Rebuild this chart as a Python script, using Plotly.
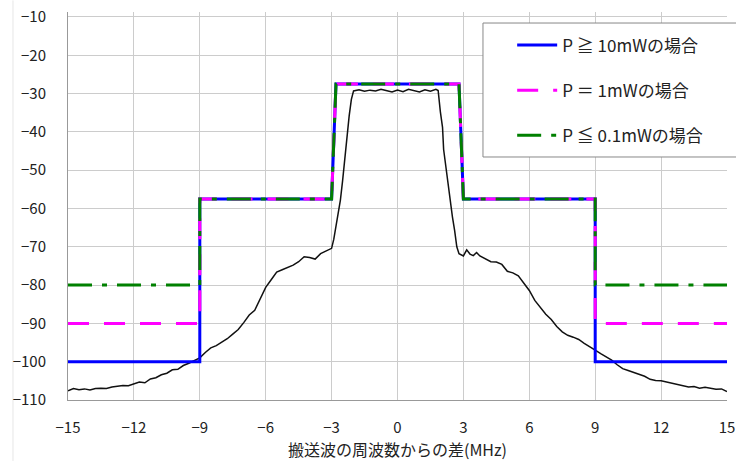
import plotly.graph_objects as go

# ---- data ----
mask_x = [-15, -9, -9, -3.0, -2.8, 2.8, 3.0, 9, 9, 15]
mask_10mw = [-100, -100, -57.5, -57.5, -27.5, -27.5, -57.5, -57.5, -100, -100]
mask_1mw = [-90, -90, -57.5, -57.5, -27.5, -27.5, -57.5, -57.5, -90, -90]
mask_01mw = [-80, -80, -57.5, -57.5, -27.5, -27.5, -57.5, -57.5, -80, -80]

spec_x = [
    -15, -14.75, -14.5, -14.25, -14.0, -13.75, -13.5, -13.25, -13.0, -12.75,
    -12.5, -12.25, -12.0, -11.75, -11.5, -11.25, -11.0, -10.75, -10.5, -10.25,
    -10.0, -9.75, -9.5, -9.25, -9.0, -8.75, -8.5, -8.25, -8.0, -7.75,
    -7.5, -7.25, -7.0, -6.75, -6.5, -6.25, -6.0, -5.75, -5.5, -5.25,
    -5.0, -4.75, -4.5, -4.25, -4.0, -3.75, -3.5, -3.25, -3.0,
    -2.9, -2.8, -2.7, -2.6, -2.5, -2.4, -2.3, -2.2, -2.1, -2.0,
    -1.75, -1.5, -1.25, -1.0, -0.75, -0.5, -0.25, 0.0, 0.25, 0.5,
    0.75, 1.0, 1.25, 1.5, 1.75, 1.85,
    1.95, 2.05, 2.1, 2.2, 2.3, 2.4, 2.5, 2.6, 2.7, 2.8,
    3.0, 3.15, 3.3, 3.45, 3.6, 3.75, 4.0, 4.25, 4.5, 4.75,
    5.0, 5.25, 5.5, 5.75, 6.0, 6.25, 6.5, 6.75, 7.0, 7.25,
    7.5, 7.75, 8.0, 8.25, 8.5, 8.75, 9.0, 9.25, 9.5, 9.75,
    10.0, 10.25, 10.5, 10.75, 11.0, 11.25, 11.5, 11.75, 12.0, 12.25,
    12.5, 12.75, 13.0, 13.25, 13.5, 13.75, 14.0, 14.25, 14.5, 14.75, 15.0,
]
spec_y = [
    -107.6, -107.0, -107.3, -107.1, -107.4, -107.0, -106.9, -107.0, -106.6, -106.5,
    -106.2, -106.3, -105.8, -105.3, -105.5, -104.5, -104.2, -103.4, -103.0, -102.1,
    -102.0, -101.0, -100.4, -99.6, -99.0, -97.6, -96.4, -95.8, -94.9, -94.0,
    -92.8, -91.6, -89.8, -87.8, -86.6, -83.8, -80.6, -78.6, -76.6, -76.0,
    -75.4, -74.8, -73.9, -72.6, -72.8, -73.2, -71.8, -71.2, -70.4,
    -68.0, -64.8, -61.5, -57.8, -52.8, -46.8, -41.5, -35.8, -31.5, -29.3,
    -29.0, -29.4, -29.1, -29.3, -28.9, -29.2, -29.6, -29.1, -29.5, -28.9,
    -29.3, -29.6, -29.0, -29.4, -28.9, -29.2,
    -34.7, -38.8, -44.6, -49.2, -52.8, -57.8, -62.2, -65.7, -70.0, -71.8,
    -72.4, -70.8, -71.9, -72.3, -71.5, -72.4, -73.2, -73.9, -74.0, -74.6,
    -76.4, -76.8, -77.6, -79.6, -81.4, -84.0, -85.8, -87.6, -89.0, -90.8,
    -92.2, -93.1, -93.6, -94.2, -95.2, -96.0, -97.0, -97.9, -98.8, -99.6,
    -100.8, -101.8, -102.3, -102.8, -103.2, -103.8, -104.6, -104.9, -105.0, -105.3,
    -105.7, -106.0, -106.3, -106.6, -106.5, -106.9, -106.7, -107.0, -107.2, -107.1, -107.8,
]

x_ticks = [-15, -12, -9, -6, -3, 0, 3, 6, 9, 12, 15]
y_ticks = [-110, -100, -90, -80, -70, -60, -50, -40, -30, -20, -10]

names = ["P ≧ 10mWの場合", "P ＝ 1mWの場合", "P ≦ 0.1mWの場合"]
x_title = "搬送波の周波数からの差(MHz)"

FONT = "Noto Sans CJK JP"

fig = go.Figure()
fig.add_trace(go.Scatter(x=spec_x, y=spec_y, mode="lines",
                         line=dict(color="#111111", width=1.5),
                         showlegend=False, hoverinfo="skip"))
fig.add_trace(go.Scatter(x=mask_x, y=mask_10mw, mode="lines", name=names[0],
                         legendgroup="a",
                         line=dict(color="#0000ff", width=3)))
fig.add_trace(go.Scatter(x=mask_x, y=mask_1mw, mode="lines", name=names[1],
                         legendgroup="b",
                         line=dict(color="#ff00ff", width=3, dash="21px,15px")))
fig.add_trace(go.Scatter(x=mask_x, y=mask_01mw, mode="lines", name=names[2],
                         legendgroup="c",
                         line=dict(color="#008000", width=3, dash="24px,10px,5px,10px")))

fig.update_layout(
    width=736, height=461,
    margin=dict(l=68, r=9, t=12, b=61, autoexpand=False),
    paper_bgcolor="white", plot_bgcolor="white",
    font=dict(family=FONT, size=15, color="#222222"),
    showlegend=True,
    legend=dict(x=0.674, y=0.96, xanchor="left", yanchor="top",
                bgcolor="rgba(0,0,0,0)", borderwidth=0,
                font=dict(family=FONT, size=17, color="#222222"),
                tracegroupgap=20, traceorder="grouped", itemwidth=40),
    shapes=[
        dict(type="rect", xref="paper", yref="paper",
             x0=0.6297, x1=1.03, y0=0.6263, y1=0.9716,
             fillcolor="white", line=dict(color="#888888", width=1), layer="above"),
        dict(type="line", xref="paper", yref="paper",
             x0=-0.0835, x1=-0.0835, y0=-0.157, y1=1.03,
             line=dict(color="#e6e6e6", width=1), layer="below"),
    ],
)
fig.update_xaxes(range=[-15, 15], tickvals=x_ticks, ticktext=[str(v).replace("-", "−") for v in x_ticks],
                 showgrid=True, gridcolor="#cccccc", gridwidth=1,
                 showline=True, linecolor="#999999", linewidth=1,
                 zeroline=False, ticks="", ticklabelstandoff=14, automargin=False,
                 ticklabeloverflow="allow",
                 title=dict(text=x_title, font=dict(family=FONT, size=16), standoff=15))
fig.update_yaxes(range=[-110, -8.7], tickvals=y_ticks, ticktext=[str(v).replace("-", "−") for v in y_ticks],
                 showgrid=True, gridcolor="#cccccc", gridwidth=1,
                 showline=True, linecolor="#999999", linewidth=1,
                 zeroline=False, ticks="", ticklabelstandoff=18, automargin=False,
                 ticklabeloverflow="allow")

fig.write_html(
    "out.html",
    config={"displayModeBar": False},
    post_script="document.body.style.margin='0';document.body.style.overflow='hidden';",
)
